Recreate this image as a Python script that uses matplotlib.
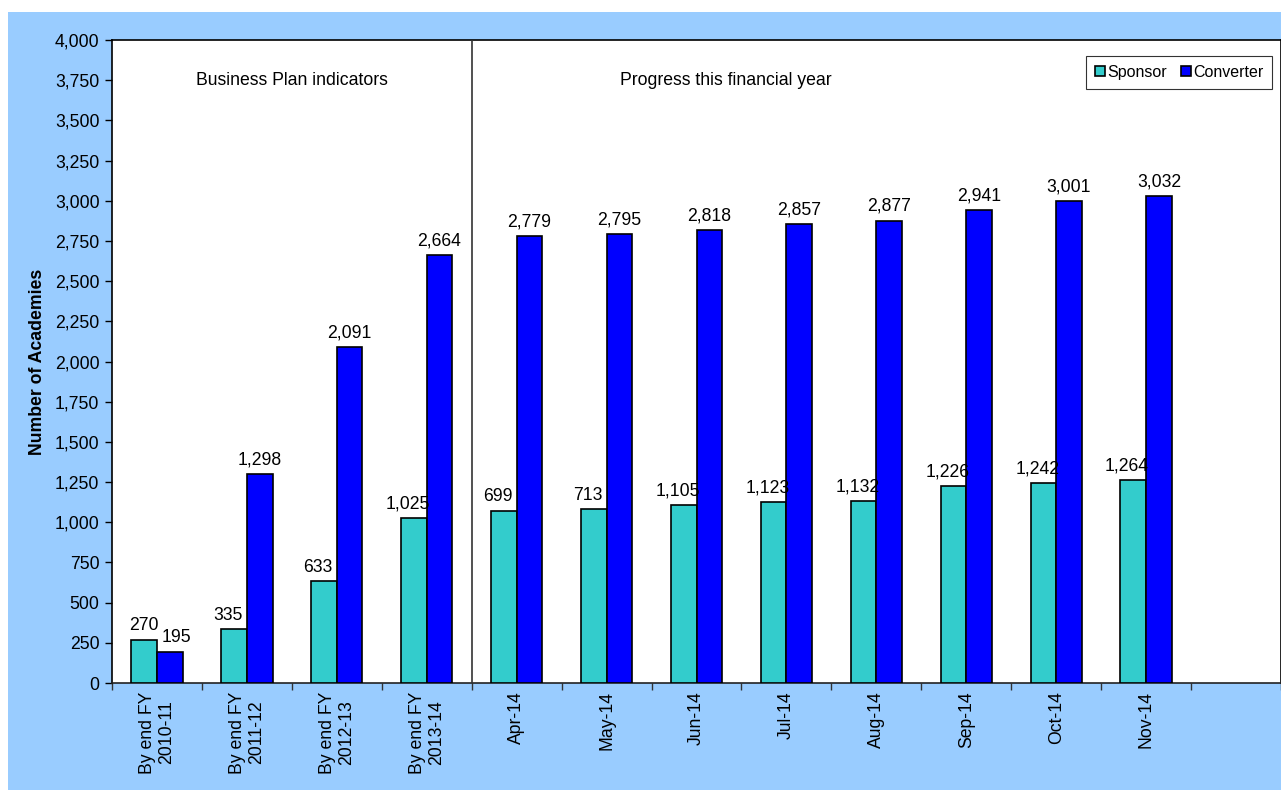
import matplotlib
matplotlib.use("Agg")
import matplotlib.pyplot as plt
from matplotlib.patches import Rectangle
from matplotlib.ticker import FuncFormatter, MultipleLocator, FixedLocator
import numpy as np

plt.rcParams['font.family'] = ['Liberation Sans', 'DejaVu Sans']

categories = ["By end FY\n2010-11", "By end FY\n2011-12", "By end FY\n2012-13", "By end FY\n2013-14",
              "Apr-14", "May-14", "Jun-14", "Jul-14", "Aug-14", "Sep-14", "Oct-14", "Nov-14"]
sponsor = [270, 335, 633, 1025, 1072, 1082, 1105, 1123, 1132, 1226, 1242, 1264]
sponsor_labels = ["270", "335", "633", "1,025", "699", "713", "1,105", "1,123", "1,132", "1,226", "1,242", "1,264"]
converter = [195, 1298, 2091, 2664, 2779, 2795, 2818, 2857, 2877, 2941, 3001, 3032]
converter_labels = ["195", "1,298", "2,091", "2,664", "2,779", "2,795", "2,818", "2,857", "2,877", "2,941", "3,001", "3,032"]
section_titles = ["Business Plan indicators", "Progress this financial year"]

FS = 12.7
W, H = 1281, 790
fig = plt.figure(figsize=(W / 100, H / 100), dpi=100)
fig.patch.set_facecolor("white")
# blue backdrop
fig.patches.append(Rectangle((8 / W, 0), 1 - 8 / W, 1 - 12 / H, transform=fig.transFigure,
                             facecolor="#99CCFF", edgecolor="none", zorder=-10))

left, right, top, bottom = 112, 1281, 40, 683
ax = fig.add_axes([left / W, 1 - bottom / H, (right - left) / W, (bottom - top) / H], zorder=5)
ax.set_facecolor("white")

n_slots = len(categories) + 1
x = np.arange(len(categories))
bw = 0.285
ax.bar(x - bw / 2, sponsor, bw, color="#33CCCC", edgecolor="black", linewidth=1.2, label="Sponsor", zorder=3)
ax.bar(x + bw / 2, converter, bw, color="#0000FF", edgecolor="black", linewidth=1.2, label="Converter", zorder=3)

for i in range(len(categories)):
    ax.annotate(sponsor_labels[i], (x[i] - bw / 2, sponsor[i]), xytext=(0 if i == 0 else -4.5, 4),
                textcoords="offset points", ha="center", va="bottom", fontsize=FS)
    ax.annotate(converter_labels[i], (x[i] + bw / 2, converter[i]), xytext=(5 if i == 0 else 0, 4),
                textcoords="offset points", ha="center", va="bottom", fontsize=FS)

ax.set_xlim(-0.5, n_slots - 0.5)
ax.set_ylim(0, 4000)
ax.yaxis.set_major_locator(MultipleLocator(250))
ax.yaxis.set_major_formatter(FuncFormatter(lambda v, p: f"{int(v):,}"))
ax.tick_params(axis="y", direction="out", length=5, width=1, labelsize=FS, pad=4)

ax.set_xticks(x)
ax.set_xticklabels(categories, rotation=90, fontsize=FS, ha="center", va="top", multialignment="center",
                   linespacing=1.15)
ax.tick_params(axis="x", which="major", length=0, pad=6)
ax.xaxis.set_minor_locator(FixedLocator(np.arange(-0.5, n_slots, 1.0)))
ax.tick_params(axis="x", which="minor", direction="out", length=5, width=1, color="#333333")

for s in ax.spines.values():
    s.set_color("black")
    s.set_linewidth(1.2)
ax.spines["bottom"].set_color("#222222")

ax.axvline(3.5, color="#333333", linewidth=1.2, zorder=4)

ax.text(1.5, 3750, section_titles[0], ha="center", va="center", fontsize=FS)
ax.text(6.33, 3750, section_titles[1], ha="center", va="center", fontsize=FS)

ax.set_ylabel("Number of Academies", fontsize=FS, fontweight="bold", labelpad=6)

leg = ax.legend(loc="upper right", bbox_to_anchor=(0.9923, 0.975), ncol=2, fontsize=11.5, frameon=True,
                fancybox=False, edgecolor="black", handlelength=0.6, handleheight=0.6, handletextpad=0.15,
                columnspacing=0.9, borderpad=0.55, borderaxespad=0)
leg.get_frame().set_linewidth(0.8)

fig.savefig("out.png", dpi=100, facecolor=fig.get_facecolor())
